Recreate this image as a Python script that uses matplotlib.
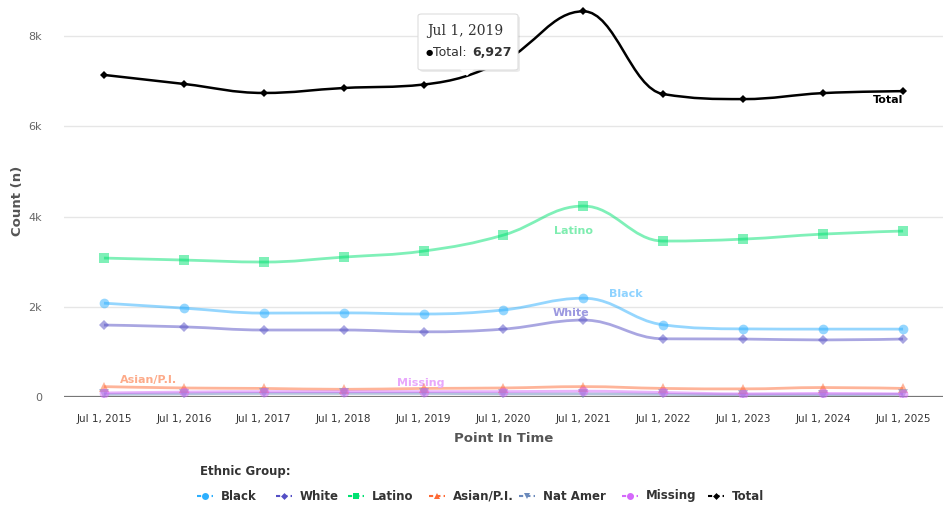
import matplotlib
matplotlib.use("Agg")
import matplotlib.pyplot as plt
import numpy as np
from matplotlib.path import Path
from matplotlib.patches import PathPatch, FancyBboxPatch, Polygon
from matplotlib.lines import Line2D

categories = ["Jul 1, 2015", "Jul 1, 2016", "Jul 1, 2017", "Jul 1, 2018", "Jul 1, 2019",
              "Jul 1, 2020", "Jul 1, 2021", "Jul 1, 2022", "Jul 1, 2023", "Jul 1, 2024", "Jul 1, 2025"]
black = [2080, 1970, 1860, 1865, 1840, 1930, 2190, 1600, 1510, 1505, 1505]
white = [1595, 1555, 1485, 1485, 1445, 1505, 1705, 1290, 1285, 1265, 1285]
latino = [3080, 3036, 2992, 3102, 3235, 3590, 4233, 3457, 3500, 3612, 3679]
asian = [230, 200, 190, 170, 190, 200, 230, 190, 180, 210, 190]
natamer = [60, 70, 80, 80, 80, 70, 70, 60, 50, 50, 60]
missing = [90, 110, 120, 120, 120, 120, 130, 100, 70, 80, 70]
total = [7140, 6940, 6740, 6850, 6927, 7450, 8550, 6715, 6604, 6737, 6780]
yticks = [0, 2000, 4000, 6000, 8000]
ytick_labels = ["0", "2k", "4k", "6k", "8k"]

W, H = 945, 505
fig = plt.figure(figsize=(W / 100, H / 100), dpi=100)
ax = fig.add_axes([64 / W, (H - 397) / H, (943 - 64) / W, (397 - 5) / H])
ax.set_xlim(-0.5, len(categories) - 0.5)
ax.set_ylim(0, 8690)
for s in ax.spines.values():
    s.set_visible(False)
ax.set_yticks(yticks)
ax.set_yticklabels(ytick_labels, fontsize=8, color="#666666")
ax.set_xticks(range(len(categories)))
ax.set_xticklabels(categories, fontsize=7.5, color="#333333")
ax.tick_params(axis="both", length=0)
ax.tick_params(axis="y", pad=16)
ax.tick_params(axis="x", pad=12)
for t in yticks[1:]:
    ax.axhline(t, color="#e6e6e6", lw=1, zorder=0)
ax.axhline(0, color="#777777", lw=1.6, zorder=1)
ax.set_ylabel("Count (n)", fontsize=9.5, color="#555555", fontweight="bold", labelpad=3)
ax.set_xlabel("Point In Time", fontsize=9.5, color="#555555", fontweight="bold", labelpad=6)


def spline_path(xs, ys):
    n = len(xs)
    sm = 1.5
    den = sm + 1
    lc = [(xs[i], ys[i]) for i in range(n)]
    rc = [(xs[i], ys[i]) for i in range(n)]
    for i in range(1, n - 1):
        px, py = xs[i], ys[i]
        lx, ly = xs[i - 1], ys[i - 1]
        nx, ny = xs[i + 1], ys[i + 1]
        lcx = (sm * px + lx) / den
        lcy = (sm * py + ly) / den
        rcx = (sm * px + nx) / den
        rcy = (sm * py + ny) / den
        corr = ((rcy - lcy) * (rcx - px)) / (rcx - lcx) + py - rcy
        lcy += corr
        rcy += corr
        if lcy > ly and lcy > py:
            lcy = max(ly, py)
            rcy = 2 * py - lcy
        elif lcy < ly and lcy < py:
            lcy = min(ly, py)
            rcy = 2 * py - lcy
        if rcy > ny and rcy > py:
            rcy = max(ny, py)
            lcy = 2 * py - rcy
        elif rcy < ny and rcy < py:
            rcy = min(ny, py)
            lcy = 2 * py - rcy
        lc[i] = (lcx, lcy)
        rc[i] = (rcx, rcy)
    verts = [(xs[0], ys[0])]
    codes = [Path.MOVETO]
    for i in range(1, n):
        verts += [rc[i - 1], lc[i], (xs[i], ys[i])]
        codes += [Path.CURVE4] * 3
    return Path(verts, codes)


series = [
    ("Black", black, "#2caffe", "o", 7),
    ("White", white, "#544fc5", "D", 5),
    ("Latino", latino, "#00e272", "s", 7),
    ("Asian/P.I.", asian, "#fe6a35", "^", 7),
    ("Nat Amer", natamer, "#6b8abc", "v", 7),
    ("Missing", missing, "#d568fb", "o", 7),
    ("Total", total, "#000000", "D", 4),
]
xs = np.arange(len(categories), dtype=float)
for name, vals, col, mk, ms in series:
    alpha = 1.0 if name == "Total" else 0.5
    lw = 1.8 if name == "Total" else 2.0
    p = spline_path(list(xs), list(vals))
    ax.add_patch(PathPatch(p, fill=False, edgecolor=col, lw=lw, alpha=alpha, zorder=3))
    ax.plot(xs, vals, ls="none", marker=mk, ms=ms, color=col, alpha=alpha,
            markeredgewidth=0, zorder=4)

# data labels
ax.text(9.81, total[10] - 80, "Total", ha="center", va="top", fontsize=8, fontweight="bold", color="#000000")
ax.text(5.87, 3680, "Latino", ha="center", va="center", fontsize=8, fontweight="bold", color="#7fedb0")
ax.text(6.53, 2285, "Black", ha="center", va="center", fontsize=8, fontweight="bold", color="#8fd3ff")
ax.text(5.84, 1865, "White", ha="center", va="center", fontsize=8, fontweight="bold", color="#9c99e0")
ax.text(0.56, 380, "Asian/P.I.", ha="center", va="center", fontsize=8, fontweight="bold", color="#fdab8a")
ax.text(3.97, 320, "Missing", ha="center", va="center", fontsize=8, fontweight="bold", color="#e8a8fc")

# tooltip (pixel coordinates)
def fx(px):
    return px / W

def fy(py):
    return (H - py) / H

shadow = FancyBboxPatch((fx(420), fy(72)), fx(100), (56) / H,
                        boxstyle="round,pad=0,rounding_size=0.004", transform=fig.transFigure,
                        facecolor="#000000", alpha=0.08, edgecolor="none", zorder=9)
fig.patches.append(shadow)
box = FancyBboxPatch((fx(418), fy(70)), fx(100), (56) / H,
                     boxstyle="round,pad=0,rounding_size=0.004", transform=fig.transFigure,
                     facecolor="#ffffff", edgecolor="#dddddd", lw=0.8, zorder=10)
fig.patches.append(box)
tri = Polygon([(fx(460), fy(69.5)), (fx(474), fy(69.5)), (fx(467), fy(76))], closed=True,
              transform=fig.transFigure, facecolor="#ffffff", edgecolor="none", zorder=11)
fig.patches.append(tri)
fig.text(fx(427), fy(31), "Jul 1, 2019", fontsize=10, family="DejaVu Serif", color="#333333",
         va="center", ha="left", zorder=12)
fig.text(fx(426), fy(53), "\u25cf", fontsize=6, color="#000000", va="center", ha="left", zorder=12)
fig.text(fx(433), fy(53), "Total: ", fontsize=9, color="#333333", va="center", ha="left", zorder=12)
fig.text(fx(472), fy(53), "6,927", fontsize=9, color="#333333", fontweight="bold",
         va="center", ha="left", zorder=12)

# legend
fig.text(fx(200), fy(471), "Ethnic Group:", fontsize=8.5, fontweight="bold", color="#333333",
         va="center", ha="left")
leg_x = [197, 276, 348, 429, 519, 622, 708]
for (name, vals, col, mk, ms), lx in zip(series, leg_x):
    y = fy(496)
    fig.lines.append(Line2D([fx(lx), fx(lx + 16)], [y, y], transform=fig.transFigure,
                            color=col, lw=1.5, ls=(0, (2, 1.5))))
    fig.lines.append(Line2D([fx(lx + 8)], [y], transform=fig.transFigure, color=col,
                            marker=mk, ms=max(ms - 2, 3.5), markeredgewidth=0))
    fig.text(fx(lx + 24), y, name, fontsize=8.5, fontweight="bold", color="#333333",
             va="center", ha="left")

fig.savefig("out.png", dpi=100, facecolor="white")
